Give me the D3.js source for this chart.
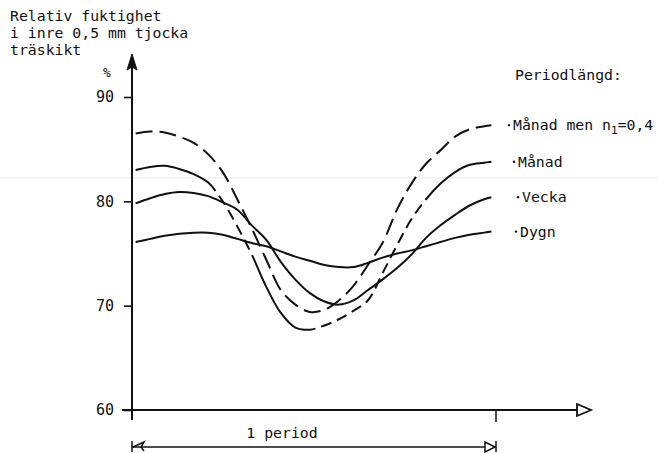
<!DOCTYPE html>
<html><head><meta charset="utf-8">
<script src="https://cdn.jsdelivr.net/npm/d3@7/dist/d3.min.js"></script>
<style>
html,body{margin:0;padding:0;background:#fff;}
svg{display:block;}
text{font-family:"DejaVu Sans Mono","Liberation Mono",monospace;fill:#111;}
</style></head>
<body>
<svg id="chart" width="658" height="453"></svg>
<script>
// phase within one period (0..1)
const phase = [0.01,0.05,0.09,0.13,0.17,0.21,0.25,0.29,0.33,0.37,0.41,0.45,0.49,0.53,0.57,0.61,0.65,0.69,0.73,0.77,0.81,0.85,0.89,0.93,0.97,0.99];
// relative humidity (%) in inner 0.5 mm layer
const manadN1 = [86.5,86.7,86.6,86.2,85.6,84.5,82.8,80.2,77.4,74.4,71.5,70.1,69.4,69.6,70.5,71.9,73.9,76.0,79.2,81.7,83.6,84.9,86.2,86.9,87.2,87.3];
const manad   = [83.0,83.3,83.4,83.1,82.6,81.8,80.0,77.6,74.9,71.8,69.3,67.9,67.7,68.1,68.7,69.5,70.5,73.1,75.8,78.3,80.2,81.7,82.8,83.5,83.7,83.8];
const vecka   = [79.8,80.3,80.7,80.9,80.8,80.5,79.9,79.2,77.7,76.3,74.2,72.5,71.2,70.4,70.1,70.5,71.5,72.5,73.6,74.9,76.5,77.7,78.7,79.6,80.2,80.4];
const dygn    = [76.1,76.4,76.7,76.9,77.0,77.0,76.8,76.4,76.0,75.7,75.2,74.7,74.3,73.9,73.7,73.7,74.1,74.6,75.0,75.3,75.7,76.1,76.5,76.8,77.0,77.1];
const yTicks = [60,70,80,90];
const titleLines = ["Relativ fuktighet","i inre 0,5 mm tjocka","träskikt"];
const legendTitle = "Periodlängd:";
const seriesNames = ["Månad men n1=0,4","Månad","Vecka","Dygn"];
const periodLabel = "1 period";

const svg = d3.select("#chart");
const x = d3.scaleLinear().domain([0,1]).range([132,495]);
const y = d3.scaleLinear().domain([60,90]).range([410,97]);
const ink = "#111";

// faint scan line
svg.append("line").attr("x1",0).attr("x2",658).attr("y1",178).attr("y2",178)
  .attr("stroke","#e6e6e6").attr("stroke-width",1);

// Title
const tt = svg.append("text").attr("x",10).attr("y",21).attr("font-size",14.8);
titleLines.forEach((t,i)=> tt.append("tspan").attr("x",10).attr("dy", i===0?0:17).text(t));

// Y axis
const yAxis = d3.axisLeft(y).tickValues(yTicks).tickSize(8).tickPadding(10).tickFormat(d3.format("d"));
const gy = svg.append("g").attr("transform","translate(132,0)").call(yAxis);
gy.select(".domain").remove();
gy.selectAll(".tick line").attr("stroke",ink).attr("stroke-width",1.6);
gy.selectAll(".tick text").attr("font-size",15).attr("fill",ink)
  .attr("font-family","DejaVu Sans Mono, monospace");
// vertical axis line with filled arrow
svg.append("line").attr("x1",132).attr("x2",132).attr("y1",420).attr("y2",62)
  .attr("stroke",ink).attr("stroke-width",2);
svg.append("path").attr("d","M132,54 L127,70 L132,67 L137,70 Z").attr("fill",ink).attr("stroke",ink).attr("stroke-width",1);
svg.append("text").attr("x",107).attr("y",77).attr("font-size",13).attr("text-anchor","middle").text("%");

// X axis with open arrow
const x0 = y(60);
svg.append("line").attr("x1",122).attr("x2",578).attr("y1",x0).attr("y2",x0)
  .attr("stroke",ink).attr("stroke-width",1.8);
svg.append("path").attr("d",`M577,${x0-6} L591,${x0} L577,${x0+6} Z`).attr("fill","#fff").attr("stroke",ink).attr("stroke-width",1.8);
// tick at end of period
svg.append("line").attr("x1",x(1)+1).attr("x2",x(1)+1).attr("y1",x0).attr("y2",x0+12).attr("stroke",ink).attr("stroke-width",1.5);

// Period arrow
const py = 447;
svg.append("line").attr("x1",x(0)).attr("x2",x(1)).attr("y1",py).attr("y2",py).attr("stroke",ink).attr("stroke-width",1.5);
svg.append("line").attr("x1",x(0)).attr("x2",x(0)).attr("y1",py-6).attr("y2",py+5).attr("stroke",ink).attr("stroke-width",1.5);
svg.append("line").attr("x1",x(1)+1).attr("x2",x(1)+1).attr("y1",py-6).attr("y2",py+5).attr("stroke",ink).attr("stroke-width",1.5);
svg.append("path").attr("d",`M${x(0)+1},${py} L${x(0)+12},${py-5} L${x(0)+9},${py} L${x(0)+12},${py+4}`).attr("fill","none").attr("stroke",ink).attr("stroke-width",1.5);
svg.append("path").attr("d",`M${x(1)},${py} L${x(1)-10},${py-5} L${x(1)-10},${py+5} Z`).attr("fill","#fff").attr("stroke",ink).attr("stroke-width",1.5);
svg.append("text").attr("x",282).attr("y",438).attr("font-size",14.8).attr("text-anchor","middle").text(periodLabel);

// Curves
const line = d3.line().x((d,i)=>x(phase[i])).y(d=>y(d)).curve(d3.curveCatmullRom.alpha(0.5));
function addCurve(vals){
  return svg.append("path").datum(vals).attr("d",line).attr("fill","none")
    .attr("stroke",ink).attr("stroke-width",2).attr("stroke-linecap","butt");
}
function lengthAtX(node, xt){
  let lo=0, hi=node.getTotalLength();
  for(let k=0;k<40;k++){const m=(lo+hi)/2; if(node.getPointAtLength(m).x<xt) lo=m; else hi=m;}
  return lo;
}
function partialDash(path, ranges, d, g){
  const node = path.node(), total = node.getTotalLength();
  const arr=[]; let pos=0;
  ranges.forEach(([a,b])=>{
    const La = lengthAtX(node,x(a)), Lb = lengthAtX(node,x(b));
    arr.push(La-pos); arr.push(0); pos=La;
    while(pos < Lb){ arr.push(d); arr.push(g); pos += d+g; }
  });
  arr.push(Math.max(total-pos,0)+5); arr.push(0);
  path.attr("stroke-dasharray", arr.map(v=>v.toFixed(2)).join(","));
}
addCurve(manadN1).attr("stroke-dasharray","17,7");
const pm = addCurve(manad);
partialDash(pm, [[0.21,0.31],[0.475,0.78]], 11, 6);
addCurve(vecka);
addCurve(dygn);

// Legend / labels
svg.append("text").attr("x",515).attr("y",80).attr("font-size",14.8).text(legendTitle);
const labelX = [509,514,518,516];
const endVals = [manadN1, manad, vecka, dygn].map(a=>a[a.length-1]);
seriesNames.forEach((nm,i)=>{
  const ty = y(endVals[i]) + 5;
  svg.append("circle").attr("cx",labelX[i]).attr("cy",ty-5).attr("r",1.2).attr("fill",ink);
  const t = svg.append("text").attr("x",labelX[i]+4).attr("y",ty).attr("font-size",14.8);
  if(nm.indexOf("n1")>=0){
    const parts = nm.split("n1");
    t.append("tspan").text(parts[0]+"n");
    t.append("tspan").attr("dy",4).attr("font-size",11).text("1");
    t.append("tspan").attr("dy",-4).text(parts[1]);
  } else t.text(nm);
});
</script>
</body></html>
